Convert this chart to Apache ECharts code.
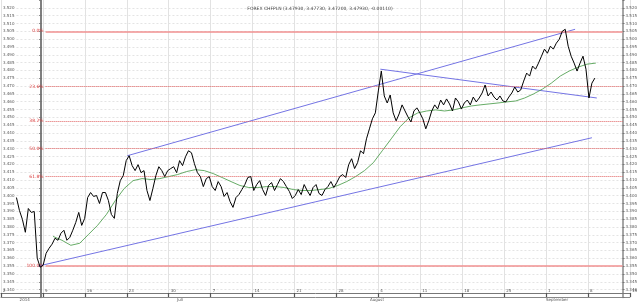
<!DOCTYPE html>
<html><head><meta charset="utf-8">
<script src="https://cdn.jsdelivr.net/npm/echarts@6/dist/echarts.min.js"></script>
<style>html,body{margin:0;padding:0;background:#fff}#c{width:640px;height:302px}</style>
</head><body><div id="c"></div>
<script>
const chartTitle = 'FOREX CHFPLN (3.47930, 3.47730, 3.47200, 3.47930, -0.00110)';
// x unit: trading days, 0 = Monday 9 June 2014
const priceStartDay = -2.78;
const priceSamplesPerDay = 3;
const price = [
3.3988,3.3906,3.3849,3.3766,3.3918,3.3893,3.3899,3.3601,3.3543,3.3556,
3.3632,3.3664,3.3690,3.3728,3.3715,3.3760,3.3779,3.3715,3.3734,3.3779,
3.3829,3.3893,3.3810,3.3855,3.3988,3.4020,3.3995,3.4001,3.3950,3.4020,
3.4020,3.3969,3.3880,3.3855,3.4014,3.4096,3.4128,3.4224,3.4255,3.4192,
3.4160,3.4198,3.4147,3.4160,3.4033,3.3969,3.4046,3.4128,3.4185,3.4160,
3.4122,3.4160,3.4173,3.4185,3.4147,3.4224,3.4192,3.4249,3.4287,3.4274,
3.4204,3.4147,3.4122,3.4058,3.4109,3.4122,3.4058,3.4033,3.4090,3.4058,
3.3995,3.4020,3.3963,3.3925,3.3988,3.4007,3.4039,3.4071,3.4116,3.4122,
3.4033,3.4071,3.4096,3.4039,3.4001,3.4065,3.4084,3.4033,3.4071,3.4109,
3.4090,3.4058,3.4027,3.3982,3.4001,3.4039,3.4007,3.4071,3.4033,3.4001,
3.4052,3.4071,3.4014,3.4001,3.4039,3.4058,3.4090,3.4052,3.4084,3.4122,
3.4135,3.4116,3.4198,3.4236,3.4173,3.4211,3.4287,3.4268,3.4363,3.4427,
3.4491,3.4529,3.4669,3.4796,3.4637,3.4592,3.4643,3.4529,3.4478,3.4522,
3.4580,3.4541,3.4503,3.4471,3.4541,3.4561,3.4529,3.4491,3.4427,3.4478,
3.4541,3.4580,3.4554,3.4611,3.4580,3.4618,3.4586,3.4541,3.4624,3.4599,
3.4554,3.4592,3.4611,3.4580,3.4630,3.4599,3.4624,3.4656,3.4707,3.4637,
3.4662,3.4630,3.4611,3.4637,3.4605,3.4599,3.4630,3.4656,3.4694,3.4662,
3.4675,3.4732,3.4783,3.4764,3.4828,3.4808,3.4847,3.4891,3.4936,3.4910,
3.4955,3.4936,3.4974,3.4999,3.5050,3.5063,3.4955,3.4891,3.4847,3.4796,
3.4847,3.4891,3.4808,3.4624,3.4719,3.4751
];
const maStartDay = 1.33;
const maSamplesPerDay = 1;
const ma = [
3.3740,3.3715,3.3683,3.3696,3.3753,3.3810,3.3880,3.3969,3.4046,3.4096,
3.4109,3.4103,3.4109,3.4122,3.4135,3.4154,3.4166,3.4160,3.4141,3.4116,
3.4090,3.4065,3.4052,3.4052,3.4058,3.4058,3.4052,3.4039,3.4033,3.4033,
3.4039,3.4046,3.4065,3.4090,3.4122,3.4160,3.4211,3.4287,3.4363,3.4440,
3.4497,3.4529,3.4541,3.4548,3.4541,3.4548,3.4561,3.4573,3.4580,3.4586,
3.4592,3.4599,3.4605,3.4624,3.4650,3.4681,3.4719,3.4764,3.4796,3.4821,
3.4840,3.4847
];
const trendUpper = [[9.67, 3.4255], [60.0, 3.5063]];
const trendLower = [[-0.33, 3.3550], [61.89, 3.4370]];
const trendDown = [[38.11, 3.4808], [62.44, 3.4624]];
const fibHigh = 3.505, fibLow = 3.355;
const fibRatios = [0, 0.236, 0.382, 0.5, 0.618, 1];
const fibLabels = ['0.0%', '23.6%', '38.2%', '50.0%', '61.8%', '100.0%'];
const fibStartDay = 0.5;
const weekTickValues = [-5, 0, 5, 10, 15, 20, 25, 30, 35, 40, 45, 50, 55, 60, 65, 70];
const weekTickLabels = ['2', '9', '16', '23', '30', '7', '14', '21', '28', '4', '11', '18', '25', '1', '8', '15'];
const monthDays = [-2.78, 16, 39, 60];
const monthLabels = ['2014', 'Juli', 'August', 'September'];
const xMin = -2.78, xMax = 65.33;
const yMin = 3.335, yMax = 3.525, yStep = 0.005;

const chart = echarts.init(document.getElementById('c'), null, {renderer: 'canvas'});
const toPts = (arr, start, per) => arr.map((v, i) => [start + i / per, v]);
const fibData = fibRatios.map((r, i) => {
  const lvl = +(fibHigh - r * (fibHigh - fibLow)).toFixed(4);
  const solid = (r === 0 || r === 1);
  return [{
    coord: [fibStartDay, lvl],
    lineStyle: solid ? {color: '#f09090', width: 1.6, type: 'solid'} : {color: '#e06060', width: 1, type: [1, 1]},
    label: {show: true, position: 'start', formatter: fibLabels[i], color: '#d83a3a', fontSize: 4.5, distance: 2, fontFamily: 'DejaVu Sans'}
  }, {coord: [xMax, lvl]}];
});
const trendSeries = [trendUpper, trendLower, trendDown].map(d => ({
  type: 'line', xAxisIndex: 0, yAxisIndex: 0, data: d, showSymbol: false, silent: true,
  lineStyle: {color: '#7474e4', width: 1}, z: 3
}));
const labelFont = {fontSize: 4, color: '#555', fontFamily: 'DejaVu Sans'};
chart.setOption({
  animation: false,
  title: {text: chartTitle, left: 'center', top: 1, textStyle: {fontSize: 4.5, color: '#444', fontWeight: 'normal', fontFamily: 'DejaVu Sans'}},
  grid: [
    {left: 13, right: 14, top: -1.46, height: 298.87, containLabel: false},
    {left: -7, width: 675, top: 0, height: 294, containLabel: false}
  ],
  xAxis: [
    {type: 'value', gridIndex: 0, min: xMin, max: xMax, show: false},
    {type: 'value', gridIndex: 1, min: -5, max: 70, interval: 5, position: 'bottom',
      axisLine: {show: true, lineStyle: {color: '#777', width: 1}},
      axisTick: {show: true, length: 4, lineStyle: {color: '#555', width: 1.2}},
      axisLabel: Object.assign({margin: -4, align: 'left', padding: [0, 0, 0, 2],
        formatter: v => weekTickLabels[weekTickValues.indexOf(v)] || ''}, labelFont),
      splitLine: {show: true, lineStyle: {color: '#e2e2e2', width: 1}}},
    {type: 'value', gridIndex: 1, min: -5, max: 70, position: 'bottom', offset: 4,
      axisLine: {show: true, lineStyle: {color: '#888', width: 1}},
      axisTick: {show: false},
      axisLabel: Object.assign({margin: 1, align: 'left', customValues: monthDays,
        formatter: v => monthLabels[monthDays.indexOf(v)] || ''}, labelFont),
      splitLine: {show: false}}
  ],
  yAxis: [
    {type: 'value', gridIndex: 0, min: yMin, max: yMax, interval: yStep, position: 'left',
      axisLine: {show: true, lineStyle: {color: '#555', width: 1.5}},
      axisTick: {show: true, length: 2, lineStyle: {color: '#777'}},
      axisLabel: Object.assign({margin: 2, formatter: v => (v > yMax - 0.004 || v < yMin + 0.004) ? '' : v.toFixed(3)}, labelFont),
      splitLine: {show: true, showMinLine: false, showMaxLine: false, lineStyle: {color: '#e4e4e4', width: 1, type: [2, 2]}}},
    {type: 'value', gridIndex: 0, min: yMin, max: yMax, interval: yStep, position: 'right',
      axisLine: {show: true, lineStyle: {color: '#888', width: 1.5}},
      axisTick: {show: true, length: 2, lineStyle: {color: '#777'}},
      axisLabel: Object.assign({margin: 3, formatter: v => (v > yMax - 0.004 || v < yMin + 0.004) ? '' : v.toFixed(3)}, labelFont),
      splitLine: {show: false}},
    {type: 'value', gridIndex: 1, min: 0, max: 1, show: false}
  ],
  series: [
    {type: 'line', name: 'fib', xAxisIndex: 0, yAxisIndex: 0, data: [], silent: true,
      markLine: {symbol: 'none', silent: true, animation: false, data: fibData}, z: 2},
    ...trendSeries,
    {type: 'line', name: 'MA', xAxisIndex: 0, yAxisIndex: 0, data: toPts(ma, maStartDay, maSamplesPerDay),
      showSymbol: false, silent: true, lineStyle: {color: '#3f963f', width: 0.8}, z: 4},
    {type: 'line', name: 'CHFPLN', xAxisIndex: 0, yAxisIndex: 0, data: toPts(price, priceStartDay, priceSamplesPerDay),
      showSymbol: false, silent: true, lineStyle: {color: '#000', width: 1}, z: 5}
  ]
});
</script></body></html>
